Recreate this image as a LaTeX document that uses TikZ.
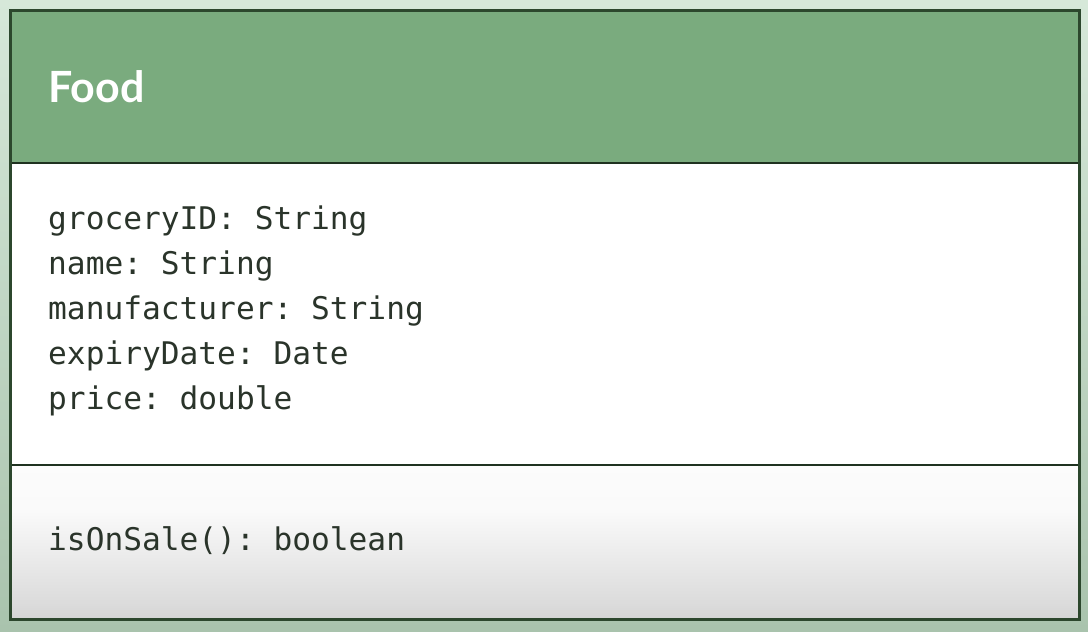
\documentclass[tikz,border=0pt]{standalone}
\usepackage{fontspec}
\setsansfont{Lato}
\setmonofont{DejaVu Sans Mono}
\definecolor{bgtop}{HTML}{D6E8D9}
\definecolor{bgbot}{HTML}{A9C3AD}
\definecolor{headgreen}{HTML}{7AAB7E}
\definecolor{frame}{HTML}{2C472D}
\definecolor{txt}{HTML}{2A342A}
\pgfdeclareverticalshading{methshade}{100bp}{rgb(0bp)=(0.70,0.70,0.70); rgb(30bp)=(0.86,0.86,0.86); rgb(60bp)=(0.98,0.98,0.98); rgb(100bp)=(1,1,1)}
\begin{document}
\begin{tikzpicture}[x=1pt,y=-1pt,
  attr/.style={anchor=base west, inner sep=0pt, text=txt, font=\fontsize{31.2}{45}\selectfont\ttfamily},
  title/.style={anchor=base west, inner sep=0pt, text=white, font=\fontsize{43}{50}\selectfont\sffamily\bfseries},
  divider/.style={line width=2.2pt, draw=frame!70!black}]
\useasboundingbox (0,0) rectangle (1088,632);
\shade[top color=bgtop, bottom color=bgbot] (0,0) rectangle (1088,632);
% compartments
\fill[headgreen] (10,10) rectangle (1079,163);
\fill[white] (10,163) rectangle (1079,465);
\shade[shading=methshade] (10,465) rectangle (1079,619);
\draw[divider] (10,163) -- (1079,163);
\draw[divider] (10,465) -- (1079,465);
\draw[line width=3pt, draw=frame] (10,10) rectangle (1079,619);
% texts
\node[title] (name) at (48,102) {Food};
\node[attr] (a1) at (48,229) {groceryID: String};
\node[attr] (a2) at (48,274) {name: String};
\node[attr] (a3) at (48,319) {manufacturer: String};
\node[attr] (a4) at (48,364) {expiryDate: Date};
\node[attr] (a5) at (48,409) {price: double};
\node[attr] (m1) at (48,550) {isOnSale(): boolean};
\end{tikzpicture}
\end{document}
